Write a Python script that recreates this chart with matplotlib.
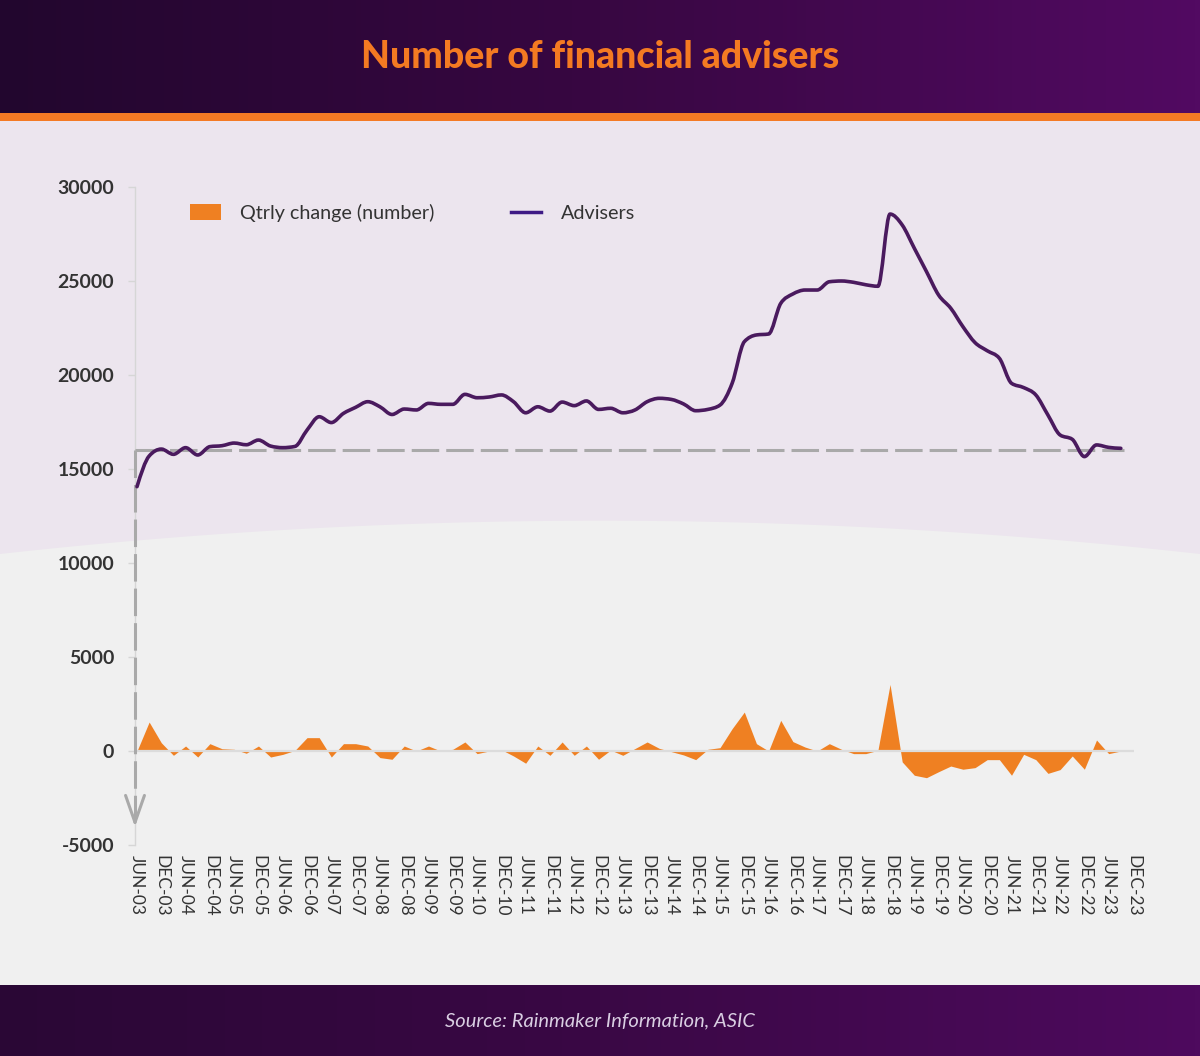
import numpy as np
import matplotlib
matplotlib.use('Agg')
import matplotlib.pyplot as plt
from matplotlib.path import Path
from matplotlib.patches import PathPatch, Rectangle, Polygon, Patch
from matplotlib.lines import Line2D
from matplotlib.colors import LinearSegmentedColormap

plt.rcParams['font.family'] = ['Lato', 'DejaVu Sans']

# ---------------- data ----------------
years = list(range(3, 24))
quarter_labels = []
for yy in years:
    quarter_labels += [f"JUN-{yy:02d}", f"SEP-{yy:02d}", f"DEC-{yy:02d}", f"MAR-{yy+1:02d}"]
quarter_labels = quarter_labels[:83]          # JUN-03 ... DEC-23
tick_labels = quarter_labels[::2]             # JUN-03, DEC-03, ... DEC-23

advisers = [14060, 15690, 16060, 15780, 16135, 15745, 16190, 16240, 16380, 16290,
            16540, 16220, 16135, 16200, 17070, 17780, 17470, 17960, 18280, 18580,
            18310, 17900, 18190, 18140, 18490, 18440, 18440, 18970, 18790, 18830,
            18940, 18580, 17990, 18310, 18080, 18560, 18370, 18620, 18170, 18230,
            17990, 18140, 18580, 18760, 18700, 18460, 18100, 18170, 18400, 19560,
            21770, 22130, 22180, 23810, 24310, 24520, 24520, 24960, 25000, 24930,
            24800, 24720, 28560, 27980, 26740, 25500, 24250, 23550, 22570, 21720,
            21290, 20890, 19560, 19330, 18940, 17870, 16810, 16580, 15660, 16280,
            16150, 16100]

qtrly_change = [0, 1540, 440, -230, 265, -320, 390, 120, 90, -120,
                265, -320, -180, 30, 710, 710, -320, 390, 390, 265,
                -350, -440, 265, 0, 265, 0, 90, 480, -140, 0,
                70, -265, -650, 265, -230, 480, -230, 265, -440, 50,
                -230, 130, 480, 140, -35, -210, -460, 90, 177, 1190,
                2070, 390, 0, 1630, 500, 210, 0, 390, 90, -140,
                -140, 35, 3540, -580, -1290, -1420, -1100, -800, -970, -885,
                -460, -460, -1290, -177, -460, -1190, -990, -265, -970, 585,
                -140, 0]

reference_level = 16000
y_ticks = [-5000, 0, 5000, 10000, 15000, 20000, 25000, 30000]

# ---------------- figure ----------------
W, H = 1200, 1056
fig = plt.figure(figsize=(W / 100, H / 100), dpi=100)

bg = fig.add_axes([0, 0, 1, 1], zorder=0)
bg.axis('off')
bg.add_patch(Rectangle((0, 0), W, H, color='#F0F0F0', lw=0))
xs = np.linspace(0, W, 300)
curve = 520.7 + 9.25e-5 * (xs - 600) ** 2
poly = np.column_stack([np.r_[0, xs, W], np.r_[121, curve, 121]])
bg.add_patch(Polygon(poly, closed=True, facecolor='#ECE5EE', lw=0))
grad = np.linspace(0, 1, 256).reshape(1, -1)
cmap_h = LinearSegmentedColormap.from_list('h', ['#22062E', '#380742', '#520A62'])
cmap_f = LinearSegmentedColormap.from_list('f', ['#2A0735', '#3A0845', '#4E0A5E'])
bg.imshow(grad, extent=(0, W, 113, 0), aspect='auto', cmap=cmap_h, zorder=1)
bg.imshow(grad, extent=(0, W, H, 985), aspect='auto', cmap=cmap_f, zorder=1)
bg.add_patch(Rectangle((0, 113), W, 8, facecolor='#F47A24', lw=0, zorder=2))
bg.set_xlim(0, W)
bg.set_ylim(H, 0)
bg.text(600, 57, 'Number of financial advisers', ha='center', va='center',
        fontsize=27, fontweight='black', color='#F47A22', zorder=3)
bg.text(600, 1021, 'Source: Rainmaker Information, ASIC', ha='center', va='center',
        fontsize=14.5, style='italic', fontweight='normal', color='#D9CEE2', zorder=3)

# ---------------- main axes ----------------
x0_px, dx = 137.0, 12.146
left_px, right_px, top_px, bot_px = 135.0, 1133.6, 187.0, 845.0
ax = fig.add_axes([left_px / W, 1 - bot_px / H, (right_px - left_px) / W, (bot_px - top_px) / H],
                  zorder=1)
ax.patch.set_alpha(0)
xlo = (left_px - x0_px) / dx
xhi = (right_px - x0_px) / dx
ax.set_xlim(xlo, xhi)
ax.set_ylim(-5000, 30000)

x = np.arange(len(advisers))

ax.fill_between(x, qtrly_change, 0, color='#EF8022', lw=0, zorder=2)
ax.axhline(0, color='#DCDCDC', lw=1.6, zorder=3)

# dashed reference lines + arrow
dash_col = '#A9A9A9'
ax.plot([xlo, 81.3], [reference_level, reference_level], color=dash_col, lw=2.2,
        dashes=(9, 2.3), zorder=4, solid_capstyle='butt')
ax.plot([xlo, xlo], [reference_level, -3500], color=dash_col, lw=2.2,
        dashes=(9, 2.3), zorder=4, clip_on=False)
ax.annotate('', xy=(xlo, -4043), xytext=(xlo, -3400),
            arrowprops=dict(arrowstyle='->,head_length=0.97,head_width=0.34',
                            color=dash_col, lw=2.2, mutation_scale=20,
                            shrinkA=0, shrinkB=0),
            annotation_clip=False, zorder=4)


def monotone_path(xv, yv):
    """Monotone cubic (Fritsch-Carlson / d3 monotoneX) curve through the data points."""
    xv = np.asarray(xv, float)
    yv = np.asarray(yv, float)
    n = len(xv)
    h = np.diff(xv)
    s = np.diff(yv) / h
    m = np.zeros(n)
    for i in range(1, n - 1):
        s0, s1 = s[i - 1], s[i]
        p = (s0 * h[i] + s1 * h[i - 1]) / (h[i - 1] + h[i])
        m[i] = (np.sign(s0) + np.sign(s1)) * min(abs(s0), abs(s1), 0.5 * abs(p))
    m[0] = (3 * s[0] - m[1]) / 2
    m[-1] = (3 * s[-1] - m[-2]) / 2
    verts = [(xv[0], yv[0])]
    codes = [Path.MOVETO]
    for i in range(n - 1):
        d = h[i] / 3
        verts += [(xv[i] + d, yv[i] + d * m[i]),
                  (xv[i + 1] - d, yv[i + 1] - d * m[i + 1]),
                  (xv[i + 1], yv[i + 1])]
        codes += [Path.CURVE4] * 3
    return Path(verts, codes)


ax.add_patch(PathPatch(monotone_path(x, advisers), fill=False, edgecolor='#4A1A5E',
                       lw=2.6, capstyle='round', joinstyle='round', zorder=5))

# axes styling
for s in ['top', 'right', 'bottom']:
    ax.spines[s].set_visible(False)
ax.spines['left'].set_color('#D6D6D6')
ax.spines['left'].set_linewidth(1)

ax.set_yticks(y_ticks)
ax.set_yticklabels([str(v) for v in y_ticks])
ax.tick_params(axis='y', length=5, width=1, color='#D6D6D6', pad=10,
               labelsize=14, labelcolor='#333333')
for t in ax.get_yticklabels():
    t.set_fontweight('bold')

ax.set_xticks(np.arange(0, 83, 2))
ax.set_xticklabels(tick_labels, rotation=270)
ax.tick_params(axis='x', length=0, pad=7, labelsize=12.5, labelcolor='#333333')

handles = [Patch(facecolor='#EF8022', edgecolor='none'),
           Line2D([], [], color='#3E1A85', lw=2.5)]
leg = fig.legend(handles, ['Qtrly change (number)', 'Advisers'], ncol=2,
                 loc='center left', bbox_to_anchor=(190 / W, 1 - 213 / H),
                 frameon=False, borderpad=0, borderaxespad=0,
                 handlelength=1.55, handleheight=0.85, handletextpad=1.0,
                 columnspacing=3.85, prop=dict(size=14.2))
for t in leg.get_texts():
    t.set_color('#333333')

fig.savefig('out.png', dpi=100)
